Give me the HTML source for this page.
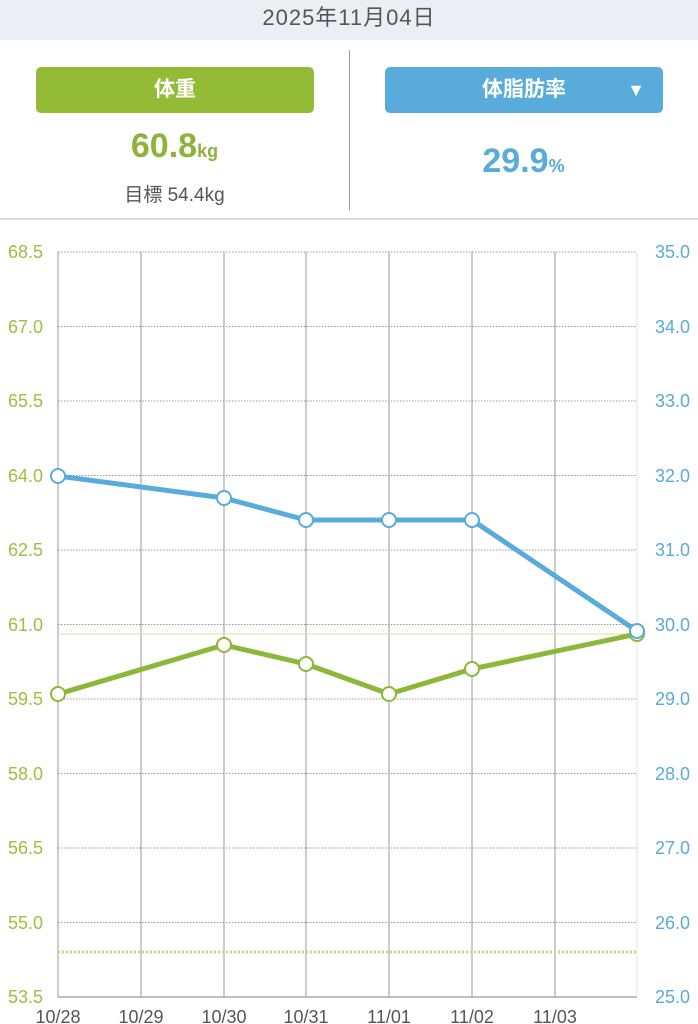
<!DOCTYPE html>
<html><head><meta charset="utf-8"><style>
body{margin:0;width:698px;height:1024px;background:#fff;font-family:"Liberation Sans","Noto Sans CJK JP",sans-serif;position:relative;overflow:hidden}
.top{position:absolute;left:0;top:0;width:698px;height:40px;background:#eceef4;text-align:center;line-height:36px;font-size:22px;color:#555;letter-spacing:1px}
.btn{position:absolute;top:67px;height:46px;border-radius:5px;color:#fff;font-size:21px;font-weight:bold;text-align:center;line-height:46px}
</style></head><body>
<div class="top">2025年11月04日</div>
<div class="btn" style="left:36px;width:278px;background:#94bb35">体重</div>
<div class="btn" style="left:385px;width:278px;background:#58abdb">体脂肪率<span style="position:absolute;right:18px;font-size:18px">▼</span></div>
<div style="position:absolute;left:349px;top:50px;width:1px;height:160px;background:#999"></div>
<div style="position:absolute;left:0;top:218px;width:698px;height:2px;background:#ddd"></div>
<div style="position:absolute;left:0;width:349px;top:127px;text-align:center;color:#8cb33c;font-weight:bold;font-size:34px">60.8<span style="font-size:18px">kg</span></div>
<div style="position:absolute;left:0;width:349px;top:180px;text-align:center;color:#555;font-size:19px">目標 54.4kg</div>
<div style="position:absolute;left:349px;width:349px;top:142px;text-align:center;color:#58abdb;font-weight:bold;font-size:34px">29.9<span style="font-size:18px">%</span></div>
<svg width="698" height="1024" style="position:absolute;left:0;top:0" font-family="Liberation Sans, sans-serif">
<g stroke="#999" stroke-dasharray="1.5,1.5" stroke-width="1">
<line x1="58" x2="637" y1="252" y2="252"/><line x1="58" x2="637" y1="326.5" y2="326.5"/><line x1="58" x2="637" y1="401" y2="401"/><line x1="58" x2="637" y1="475.5" y2="475.5"/><line x1="58" x2="637" y1="550" y2="550"/><line x1="58" x2="637" y1="624.5" y2="624.5"/><line x1="58" x2="637" y1="699" y2="699"/><line x1="58" x2="637" y1="773.5" y2="773.5"/><line x1="58" x2="637" y1="848" y2="848"/><line x1="58" x2="637" y1="922.5" y2="922.5"/></g>
<g stroke="#999" stroke-width="1"><line x1="58" x2="58" y1="252" y2="997"/><line x1="141" x2="141" y1="252" y2="997"/><line x1="224" x2="224" y1="252" y2="997"/><line x1="306" x2="306" y1="252" y2="997"/><line x1="389" x2="389" y1="252" y2="997"/><line x1="472" x2="472" y1="252" y2="997"/><line x1="555" x2="555" y1="252" y2="997"/><line x1="58" x2="637" y1="997" y2="997" stroke="#aaa" stroke-width="1.5"/></g>
<line x1="637" x2="637" y1="252" y2="997" stroke="#f5dcc8"/>
<line x1="58" x2="637" y1="952" y2="952" stroke="#b9dc8c" stroke-width="3" stroke-dasharray="2,2"/>
<line x1="58" x2="637" y1="634" y2="634" stroke="#f0d49a" stroke-width="1"/>
<polyline points="58,476 224,498 306,520 389,520 472,520 637,631" fill="none" stroke="#58abdb" stroke-width="5" stroke-linejoin="round"/>
<polyline points="58,694 224,645 306,664 389,694 472,669 637,634" fill="none" stroke="#8cb83a" stroke-width="5" stroke-linejoin="round"/>
<g fill="#fff" stroke="#58abdb" stroke-width="2"><circle cx="58" cy="476" r="7"/><circle cx="224" cy="498" r="7"/><circle cx="306" cy="520" r="7"/><circle cx="389" cy="520" r="7"/><circle cx="472" cy="520" r="7"/></g>
<g fill="#fff" stroke="#8cb83a" stroke-width="2"><circle cx="58" cy="694" r="7"/><circle cx="224" cy="645" r="7"/><circle cx="306" cy="664" r="7"/><circle cx="389" cy="694" r="7"/><circle cx="472" cy="669" r="7"/><circle cx="637" cy="634" r="7"/></g>
<circle cx="637" cy="631" r="7" fill="#fff" stroke="#58abdb" stroke-width="2"/>
<g fill="#9cc040" font-size="18" text-anchor="start"><text x="8" y="258">68.5</text><text x="8" y="333">67.0</text><text x="8" y="407">65.5</text><text x="8" y="482">64.0</text><text x="8" y="556">62.5</text><text x="8" y="631">61.0</text><text x="8" y="705">59.5</text><text x="8" y="780">58.0</text><text x="8" y="854">56.5</text><text x="8" y="929">55.0</text><text x="8" y="1003">53.5</text></g>
<g fill="#58abdb" font-size="18" text-anchor="end"><text x="690" y="258">35.0</text><text x="690" y="333">34.0</text><text x="690" y="407">33.0</text><text x="690" y="482">32.0</text><text x="690" y="556">31.0</text><text x="690" y="631">30.0</text><text x="690" y="705">29.0</text><text x="690" y="780">28.0</text><text x="690" y="854">27.0</text><text x="690" y="929">26.0</text><text x="690" y="1003">25.0</text></g>
<g fill="#555" font-size="18" text-anchor="middle"><text x="58" y="1023">10/28</text><text x="141" y="1023">10/29</text><text x="224" y="1023">10/30</text><text x="306" y="1023">10/31</text><text x="389" y="1023">11/01</text><text x="472" y="1023">11/02</text><text x="555" y="1023">11/03</text></g>
</svg>
</body></html>
